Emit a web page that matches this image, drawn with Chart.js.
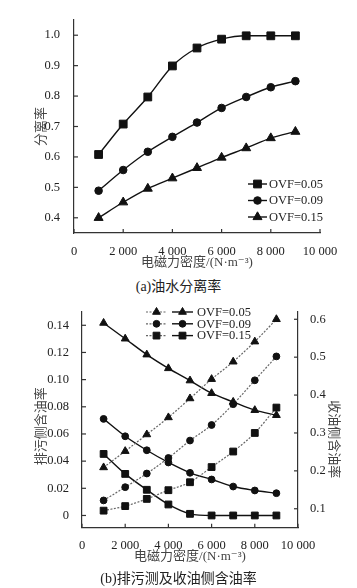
<!DOCTYPE html>
<html><head><meta charset="utf-8">
<script src="https://cdn.jsdelivr.net/npm/chart.js@4.4.0/dist/chart.umd.min.js"></script>
<style>
body{margin:0;background:#fff;width:357px;height:588px;position:relative;overflow:hidden;font-family:"Liberation Serif","Times New Roman","DejaVu Serif","Noto Sans CJK SC",serif;}
.c{position:absolute;left:0;width:357px;height:275px;}
.cap{position:absolute;left:0;width:357px;text-align:center;font-size:14px;line-height:20px;color:#222;}
</style></head><body>
<div class="c" style="top:0"><canvas id="ca" width="357" height="275"></canvas></div>
<div class="cap" style="top:277px">(a)油水分离率</div>
<div class="c" style="top:295px"><canvas id="cb" width="357" height="275"></canvas></div>
<div class="cap" style="top:569px">(b)排污测及收油侧含油率</div>
<script>
// ---- data ----
const forceDensity = [1000, 2000, 3000, 4000, 5000, 6000, 7000, 8000, 9000];
const xTickValues = [0, 2000, 4000, 6000, 8000, 10000];
const xTickLabels = ['0', '2 000', '4 000', '6 000', '8 000', '10 000'];
const sepTickValues = [0.4, 0.5, 0.6, 0.7, 0.8, 0.9, 1.0];
const sepTickLabels = ['0.4', '0.5', '0.6', '0.7', '0.8', '0.9', '1.0'];
const drainTickValues = [0, 0.02, 0.04, 0.06, 0.08, 0.10, 0.12, 0.14];
const drainTickLabels = ['0', '0.02', '0.04', '0.06', '0.08', '0.10', '0.12', '0.14'];
const oilTickValues = [0.1, 0.2, 0.3, 0.4, 0.5, 0.6];
const oilTickLabels = ['0.1', '0.2', '0.3', '0.4', '0.5', '0.6'];
const ovfLabels = ['OVF=0.05', 'OVF=0.09', 'OVF=0.15'];

// (a) separation rate
const sepOVF005 = [0.608, 0.708, 0.797, 0.899, 0.958, 0.987, 0.998, 0.998, 0.998];
const sepOVF009 = [0.489, 0.557, 0.617, 0.666, 0.713, 0.761, 0.797, 0.829, 0.849];
const sepOVF015 = [0.400, 0.451, 0.496, 0.530, 0.564, 0.598, 0.629, 0.662, 0.683];
// (b) drain-side oil content (left axis)
const drainOVF005 = [0.1417, 0.1301, 0.1184, 0.1083, 0.0993, 0.0900, 0.0836, 0.0775, 0.0738];
const drainOVF009 = [0.0711, 0.0583, 0.0480, 0.0390, 0.0314, 0.0265, 0.0213, 0.0184, 0.0164];
const drainOVF015 = [0.0453, 0.0306, 0.0189, 0.0081, 0.0012, 0.0, 0.0, 0.0, 0.0];
// (b) oil-side oil content (right axis)
const oilOVF005 = [0.209, 0.252, 0.296, 0.341, 0.391, 0.442, 0.488, 0.541, 0.600];
const oilOVF009 = [0.122, 0.157, 0.193, 0.234, 0.280, 0.321, 0.376, 0.439, 0.502];
const oilOVF015 = [0.095, 0.107, 0.126, 0.149, 0.170, 0.210, 0.251, 0.300, 0.367];

// ---- helpers ----
const FONT = '"Liberation Serif", "Times New Roman", "DejaVu Serif", "Noto Sans CJK SC", serif';
const pts = ys => forceDensity.map((x, i) => ({x: x, y: ys[i]}));
const labelFrom = (vals, labs) => v => { const i = vals.findIndex(t => Math.abs(t - v) < 1e-9); return i >= 0 ? labs[i] : ''; };
const fixTicks = vals => s => { s.ticks = vals.map(v => ({value: v})); };

function drawMark(ctx, style, x, y, r, color) {
  ctx.save();
  ctx.fillStyle = color; ctx.strokeStyle = color; ctx.lineWidth = 1;
  ctx.setLineDash([]);
  ctx.beginPath();
  if (style === 'rect') {
    const s = r * Math.SQRT1_2; ctx.rect(x - s, y - s, 2 * s, 2 * s);
  } else if (style === 'triangle') {
    let a = 0;
    for (let k = 0; k < 3; k++) {
      const px = x + Math.sin(a) * r, py = y - Math.cos(a) * r;
      if (k === 0) ctx.moveTo(px, py); else ctx.lineTo(px, py);
      a += 2 * Math.PI / 3;
    }
    ctx.closePath();
  } else {
    ctx.arc(x, y, r, 0, Math.PI * 2);
  }
  ctx.fill(); ctx.stroke();
  ctx.restore();
}

const innerTicks = {
  id: 'innerTicks',
  afterDraw(chart) {
    const ctx = chart.ctx, a = chart.chartArea;
    ctx.save();
    ctx.strokeStyle = '#333'; ctx.lineWidth = 1.2;
    Object.values(chart.scales).forEach(s => {
      s.ticks.forEach(t => {
        const p = s.getPixelForValue(t.value);
        ctx.beginPath();
        if (s.axis === 'x') { ctx.moveTo(p, a.bottom); ctx.lineTo(p, a.bottom - 4); }
        else if (s.position === 'left') { ctx.moveTo(a.left, p); ctx.lineTo(a.left + 4, p); }
        else { ctx.moveTo(a.right, p); ctx.lineTo(a.right - 4, p); }
        ctx.stroke();
      });
    });
    ctx.restore();
  }
};

const lineLegend = {
  id: 'lineLegend',
  afterDraw(chart, args, opts) {
    if (!opts || !opts.rows) return;
    const ctx = chart.ctx;
    ctx.save();
    ctx.font = opts.fontSize + 'px ' + FONT;
    ctx.fillStyle = '#222';
    ctx.textBaseline = 'middle'; ctx.textAlign = 'left';
    opts.rows.forEach((row, ri) => {
      const y = opts.y + ri * opts.rowGap;
      let x = opts.x;
      row.datasets.forEach(di => {
        const ds = chart.data.datasets[di];
        ctx.save();
        ctx.strokeStyle = ds.borderColor; ctx.lineWidth = ds.borderWidth;
        ctx.setLineDash(ds.borderDash || []);
        ctx.beginPath(); ctx.moveTo(x, y); ctx.lineTo(x + opts.segLen, y); ctx.stroke();
        ctx.restore();
        drawMark(ctx, ds.pointStyle, x + opts.segLen / 2, y, ds.pointRadius, ds.pointBackgroundColor);
        x += opts.segLen + opts.segGap;
      });
      ctx.fillText(row.text, x - opts.segGap + opts.textGap, y + 0.5);
    });
    ctx.restore();
  }
};

function solidSet(label, data, style, r, axis) {
  return {label: label, data: data, yAxisID: axis, borderColor: '#111', backgroundColor: '#111',
    borderWidth: 1.4, pointStyle: style, pointRadius: r, pointHoverRadius: r,
    pointBackgroundColor: '#111', pointBorderColor: '#111', pointBorderWidth: 1,
    cubicInterpolationMode: 'monotone', clip: false, fill: false};
}
function dottedSet(label, data, style, r, axis) {
  return {label: label, data: data, yAxisID: axis, borderColor: '#666', backgroundColor: '#111',
    borderWidth: 1.2, borderDash: [2, 1.5], pointStyle: style, pointRadius: r, pointHoverRadius: r,
    pointBackgroundColor: '#111', pointBorderColor: '#111', pointBorderWidth: 1,
    cubicInterpolationMode: 'monotone', clip: false, fill: false};
}

const tickFont = {family: FONT, size: 12.5};
const titleFont = {family: FONT, size: 13};
const border = {display: true, color: '#333', width: 1.2};

function xScale(titlePadBottom, h) {
  return {type: 'linear', min: 0, max: 10000,
    afterBuildTicks: fixTicks(xTickValues),
    afterFit: s => { s.height = h; },
    grid: {display: false}, border: border,
    ticks: {font: tickFont, color: '#222', padding: 3, maxRotation: 0, autoSkip: false,
      callback: labelFrom(xTickValues, xTickLabels)},
    title: {display: true, text: '电磁力密度/(N·m⁻³)', font: titleFont, color: '#444',
      padding: {top: 0, bottom: titlePadBottom}}};
}

// ---- chart (a) ----
new Chart(document.getElementById('ca'), {
  type: 'line',
  data: {datasets: [
    solidSet(ovfLabels[0], pts(sepOVF005), 'rect', 5.5, 'y'),
    solidSet(ovfLabels[1], pts(sepOVF009), 'circle', 3.8, 'y'),
    solidSet(ovfLabels[2], pts(sepOVF015), 'triangle', 5.2, 'y')
  ]},
  options: {
    responsive: false, animation: false,
    layout: {padding: {top: 20, right: 37, left: 0, bottom: 0}},
    plugins: {legend: {display: false}, tooltip: {enabled: false},
      lineLegend: {x: 248, y: 184, rowGap: 16.5, segLen: 19, segGap: 0, textGap: 2, fontSize: 12.5,
        rows: [{datasets: [0], text: ovfLabels[0]}, {datasets: [1], text: ovfLabels[1]}, {datasets: [2], text: ovfLabels[2]}]}},
    scales: {
      x: xScale(4.2, 42),
      y: {type: 'linear', position: 'left', min: 0.35, max: 1.05,
        afterBuildTicks: fixTicks(sepTickValues),
        afterFit: s => { s.width = 74; },
        grid: {display: false}, border: border,
        ticks: {font: tickFont, color: '#222', padding: 6, callback: labelFrom(sepTickValues, sepTickLabels)},
        title: {display: true, text: '分离率', font: titleFont, color: '#444', padding: {top: 34, bottom: 0}}}
    }
  },
  plugins: [innerTicks, lineLegend]
});

// ---- chart (b) ----
new Chart(document.getElementById('cb'), {
  type: 'line',
  data: {datasets: [
    dottedSet(ovfLabels[0], pts(oilOVF005), 'triangle', 4.5, 'yR'),
    dottedSet(ovfLabels[1], pts(oilOVF009), 'circle', 3.4, 'yR'),
    dottedSet(ovfLabels[2], pts(oilOVF015), 'rect', 4.8, 'yR'),
    solidSet(ovfLabels[0], pts(drainOVF005), 'triangle', 4.5, 'yL'),
    solidSet(ovfLabels[1], pts(drainOVF009), 'circle', 3.4, 'yL'),
    solidSet(ovfLabels[2], pts(drainOVF015), 'rect', 4.8, 'yL')
  ]},
  options: {
    responsive: false, animation: false,
    layout: {padding: {top: 16.7, right: 0, left: 0, bottom: 0}},
    plugins: {legend: {display: false}, tooltip: {enabled: false},
      lineLegend: {x: 146, y: 17, rowGap: 11.8, segLen: 21, segGap: 5, textGap: 4, fontSize: 12.5,
        rows: [{datasets: [0, 3], text: ovfLabels[0]}, {datasets: [1, 4], text: ovfLabels[1]}, {datasets: [2, 5], text: ovfLabels[2]}]}},
    scales: {
      x: xScale(5.5, 42.3),
      yL: {type: 'linear', position: 'left', min: -0.009, max: 0.15,
        afterBuildTicks: fixTicks(drainTickValues),
        afterFit: s => { s.width = 82; },
        grid: {display: false}, border: border,
        ticks: {font: tickFont, color: '#222', padding: 5, callback: labelFrom(drainTickValues, drainTickLabels)},
        title: {display: true, text: '排污侧含油率\u3000', font: titleFont, color: '#444', padding: {top: 34, bottom: 0}}},
      yR: {type: 'linear', position: 'right', min: 0.05, max: 0.62,
        afterBuildTicks: fixTicks(oilTickValues),
        afterFit: s => { s.width = 59; },
        grid: {display: false}, border: border,
        ticks: {font: tickFont, color: '#222', padding: 4, callback: labelFrom(oilTickValues, oilTickLabels)},
        title: {display: true, text: '\u3000\u3000\u3000收油侧含油率', font: titleFont, color: '#444', padding: {top: 16, bottom: 0}}}
    }
  },
  plugins: [innerTicks, lineLegend]
});
</script>
</body></html>
